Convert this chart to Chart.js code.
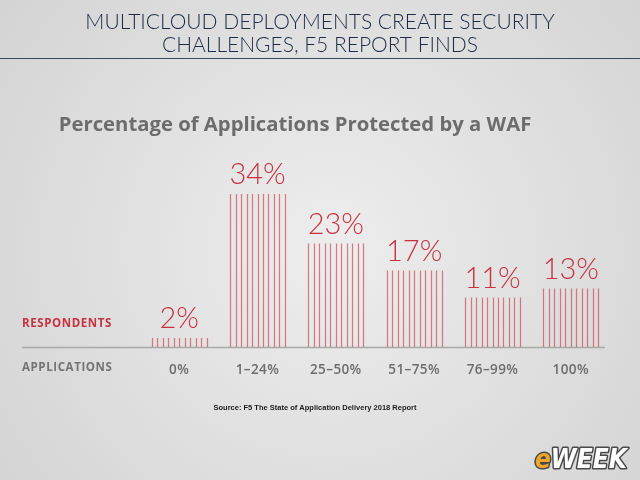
<!DOCTYPE html>
<html>
<head>
<meta charset="utf-8">
<script src="https://cdn.jsdelivr.net/npm/chart.js@4"></script>
<style>
  html, body { margin: 0; padding: 0; background: #dcdcdc; }
  #wrap { width: 640px; height: 480px; position: relative; }
</style>
</head>
<body>
<div id="wrap"><canvas id="myChart" width="640" height="480"></canvas></div>
<script>

// chart data
var categories = ["0%", "1–24%", "25–50%", "51–75%", "76–99%", "100%"];
var respondents = [2, 34, 23, 17, 11, 13];

var headerLines = ["MULTICLOUD DEPLOYMENTS CREATE SECURITY", "CHALLENGES, F5 REPORT FINDS"];
var chartTitle = "Percentage of Applications Protected by a WAF";
var sourceText = "Source: F5 The State of Application Delivery 2018 Report";

var red = "#c8323f";
var stripe = "rgba(210, 70, 82, 0.7)";
var gray = "#6c6c6c";

// background, header, rule line and logo
var backdrop = {
    id: "backdrop",
    beforeDraw: function(chart){
        var ctx = chart.ctx;
        ctx.save();
        var g = ctx.createRadialGradient(330, 250, 20, 330, 250, 420);
        g.addColorStop(0, "#ececec");
        g.addColorStop(1, "#d3d3d3");
        ctx.fillStyle = g;
        ctx.fillRect(0, 0, 640, 480);

        ctx.fillStyle = "#1f2c48";
        ctx.font = "300 21px Lato, 'Open Sans', sans-serif";
        ctx.textAlign = "center";
        ctx.textBaseline = "middle";
        ctx.fillText(headerLines[0], 320, 22);
        ctx.fillText(headerLines[1], 320, 45);

        ctx.strokeStyle = "#3a4760";
        ctx.lineWidth = 1.2;
        ctx.beginPath();
        ctx.moveTo(0, 58.5);
        ctx.lineTo(640, 58.5);
        ctx.stroke();

        ctx.fillStyle = gray;
        ctx.font = "bold 20.3px 'Open Sans', Lato, sans-serif";
        ctx.fillText(chartTitle, 295, 125);

        ctx.fillStyle = "#1c1c1c";
        ctx.font = "bold 7.5px 'Liberation Sans', Arial, sans-serif";
        ctx.fillText(sourceText, 315, 408);

        // row labels
        ctx.textAlign = "left";
        ctx.font = "bold 11.5px 'Open Sans', Lato, sans-serif";
        ctx.letterSpacing = "0.6px";
        ctx.fillStyle = red;
        ctx.fillText("RESPONDENTS", 22, 324);
        ctx.fillStyle = "#737373";
        ctx.fillText("APPLICATIONS", 22, 368);
        ctx.letterSpacing = "0px";

        // baseline
        ctx.strokeStyle = "#a9a9a9";
        ctx.lineWidth = 1.5;
        ctx.beginPath();
        ctx.moveTo(22, chart.chartArea.bottom + 0.5);
        ctx.lineTo(605, chart.chartArea.bottom + 0.5);
        ctx.stroke();

        // eWEEK logo
        ctx.font = "italic bold 26px 'Liberation Sans Narrow', 'DejaVu Sans Condensed', sans-serif";
        ctx.textBaseline = "alphabetic";
        ctx.lineJoin = "round";
        ctx.lineWidth = 3;
        ctx.strokeStyle = "#4a4a4a";
        ctx.strokeText("e", 535, 468);
        ctx.fillStyle = "#f0a52a";
        ctx.fillText("e", 535, 468);
        var ew = ctx.measureText("e").width;
        ctx.strokeText("WEEK", 535 + ew, 468);
        ctx.fillStyle = "#ffffff";
        ctx.fillText("WEEK", 535 + ew, 468);
        ctx.restore();
    }
};

// striped bars, value labels and category labels
var stripes = {
    id: "stripes",
    afterDatasetsDraw: function(chart){
        var ctx = chart.ctx;
        var meta = chart.getDatasetMeta(0);
        var xScale = chart.scales.x;
        ctx.save();
        meta.data.forEach(function(bar, i){
            var left = bar.x - bar.width / 2;
            var right = bar.x + bar.width / 2;
            var n = Math.round(bar.width / 5.4);
            ctx.strokeStyle = stripe;
            ctx.lineWidth = 1.2;
            for (var k = 0; k <= n; k++) {
                var x = Math.round(left + k * (right - left) / n) + 0.5;
                ctx.beginPath();
                ctx.moveTo(x, bar.y);
                ctx.lineTo(x, bar.base);
                ctx.stroke();
            }
            ctx.fillStyle = red;
            ctx.font = "300 29px Lato, 'Open Sans', sans-serif";
            ctx.textAlign = "center";
            ctx.textBaseline = "alphabetic";
            ctx.fillText(respondents[i] + "%", bar.x, bar.y - 10);

            ctx.fillStyle = gray;
            ctx.font = "600 13.5px 'Open Sans', Lato, sans-serif";
            ctx.letterSpacing = "0.4px";
            ctx.textBaseline = "middle";
            ctx.fillText(categories[i], xScale.getPixelForValue(i), 370);
            ctx.letterSpacing = "0px";
        });
        ctx.restore();
    }
};

var ctx = document.getElementById("myChart");
var myChart = new Chart(ctx, {
    type: "bar",
    data: {
        labels: categories,
        datasets: [{
            data: respondents,
            backgroundColor: "rgba(0,0,0,0)",
            borderWidth: 0,
            barPercentage: 0.7,
            categoryPercentage: 1
        }]
    },
    options: {
        responsive: false,
        animation: false,
        layout: { padding: { left: 140, right: 30, top: 167, bottom: 133 } },
        plugins: { legend: { display: false }, tooltip: { enabled: false } },
        scales: {
            x: { display: false },
            y: { display: false, min: 0, max: 40 }
        }
    },
    plugins: [backdrop, stripes]
});
</script>
</body>
</html>
